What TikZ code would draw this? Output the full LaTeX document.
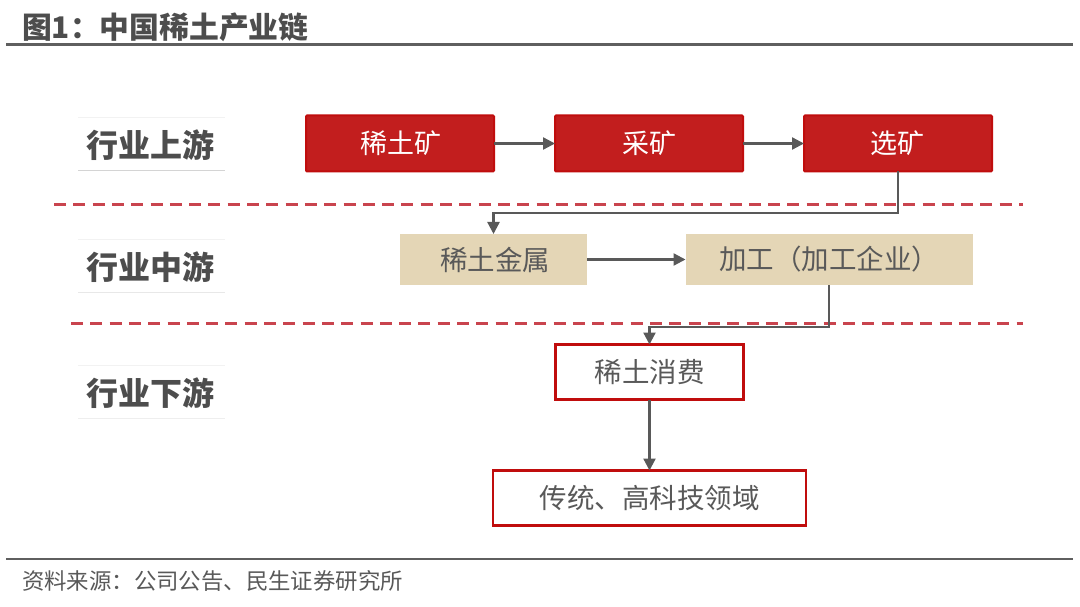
\documentclass[tikz,border=0pt]{standalone}
\usepackage{fontspec}
\setmainfont{Noto Sans CJK SC}
\usetikzlibrary{arrows.meta}
\definecolor{redfill}{HTML}{C21E1E}
\definecolor{redline}{HTML}{C00D0D}
\definecolor{tan}{HTML}{E4D6B6}
\definecolor{txt}{HTML}{595959}
\definecolor{head}{HTML}{4D4D4D}
\definecolor{dashc}{HTML}{C9444E}
\definecolor{rulec}{HTML}{5F5F5F}
\newcommand{\fs}[1]{\fontsize{#1}{#1}\selectfont}
\newcommand{\fcolon}{\char"FF1A\relax}
\newcommand{\flp}{\char"FF08\relax}
\newcommand{\frp}{\char"FF09\relax}
\tikzset{
 x=1pt,y=-1pt,
 box/.style={minimum width=#1,inner sep=0pt,outer sep=0pt,anchor=center},
 redbox/.style={box=188pt,minimum height=56pt,draw=redline,line width=2pt,fill=redfill,text=white,rounded corners=1pt,font=\fs{27},text height=21pt,text depth=0pt},
 tanbox/.style={box=#1,minimum height=51pt,fill=tan,text=txt,font=\fs{27.5}},
 whitebox/.style={box=#1,minimum height=55pt,draw=redline,line width=2.6pt,fill=white,text=txt,font=\fs{27.5}},
 stage/.style={box=147pt,minimum height=53pt,text=head,font=\fs{32}\bfseries,text height=28pt,text depth=0pt},
 link/.style={draw=txt,line width=2.3pt,-{Triangle[length=12pt,width=12pt]}},
 divider/.style={draw=dashc,line width=2.3pt,dash pattern=on 12pt off 7.3pt},
 rulel/.style={draw=rulec,line width=2.6pt},
}
\begin{document}
\begin{tikzpicture}
\useasboundingbox[fill=white] (0,0) rectangle (1080,607);
% rules
\coordinate (r1a) at (6,44.5); \coordinate (r1b) at (1073,44.5);
\coordinate (r2a) at (6,559); \coordinate (r2b) at (1073,559);
\draw[rulel] (r1a) -- (r1b);
\draw[rulel] (r2a) -- (r2b);
\node[anchor=west,inner sep=0pt,text=head,font=\fs{29.8}\bfseries] (title) at (22,27) {图1\fcolon 中国稀土产业链};
\node[anchor=west,inner sep=0pt,text=txt,font=\fs{22.4}] (source) at (22,581) {资料来源\fcolon 公司公告、民生证券研究所};
% dividers
\coordinate (d1a) at (54,204.5); \coordinate (d1b) at (1023,204.5);
\coordinate (d2a) at (71,323.5); \coordinate (d2b) at (1023,323.5);
\draw[divider] (d1a) -- (d1b);
\draw[divider] (d2a) -- (d2b);
% stage labels
\node[stage] (s1) at (151.5,143.5) {\hspace*{-3pt}行业上游};
\node[stage] (s2) at (151.5,265.5) {\hspace*{-3pt}行业中游};
\node[stage] (s3) at (151.5,391.5) {\hspace*{-3pt}行业下游};
\foreach \n/\c in {s1/D4D4D4,s2/E8E8E8,s3/EEEEEE}{
  \definecolor{tmpc}{HTML}{\c}
  \draw[tmpc,line width=.8pt] (\n.south west) -- (\n.south east);
  \draw[black!5,line width=.8pt] (\n.north west) -- (\n.north east);
}
% nodes
\node[redbox] (ore) at (400,143.5) {\hspace*{2pt}稀土矿};
\node[redbox] (mine) at (649,143.5) {采矿};
\node[redbox] (dress) at (898,143.5) {\hspace*{-2pt}选矿};
\node[tanbox=187pt] (metal) at (493.5,259.5) {\hspace*{3pt}稀土金属};
\node[tanbox=287pt] (proc) at (829,259.5) {加工\flp 加工企业\frp};
\node[whitebox=188pt] (cons) at (649.5,372) {稀土消费};
\node[whitebox=313pt] (field) at (649.5,498) {传统、高科技领域};
% connectors
\draw[link] (ore) -- (mine);
\draw[link] (mine) -- (dress);
\draw[link] (metal) -- (proc);
\draw[link] (dress.south) -- ++(0,41.5) -| (metal.north);
\draw[link] (proc.south) -- ++(0,42) -| (cons.north);
\draw[link] (cons) -- (field);
\end{tikzpicture}
\end{document}
